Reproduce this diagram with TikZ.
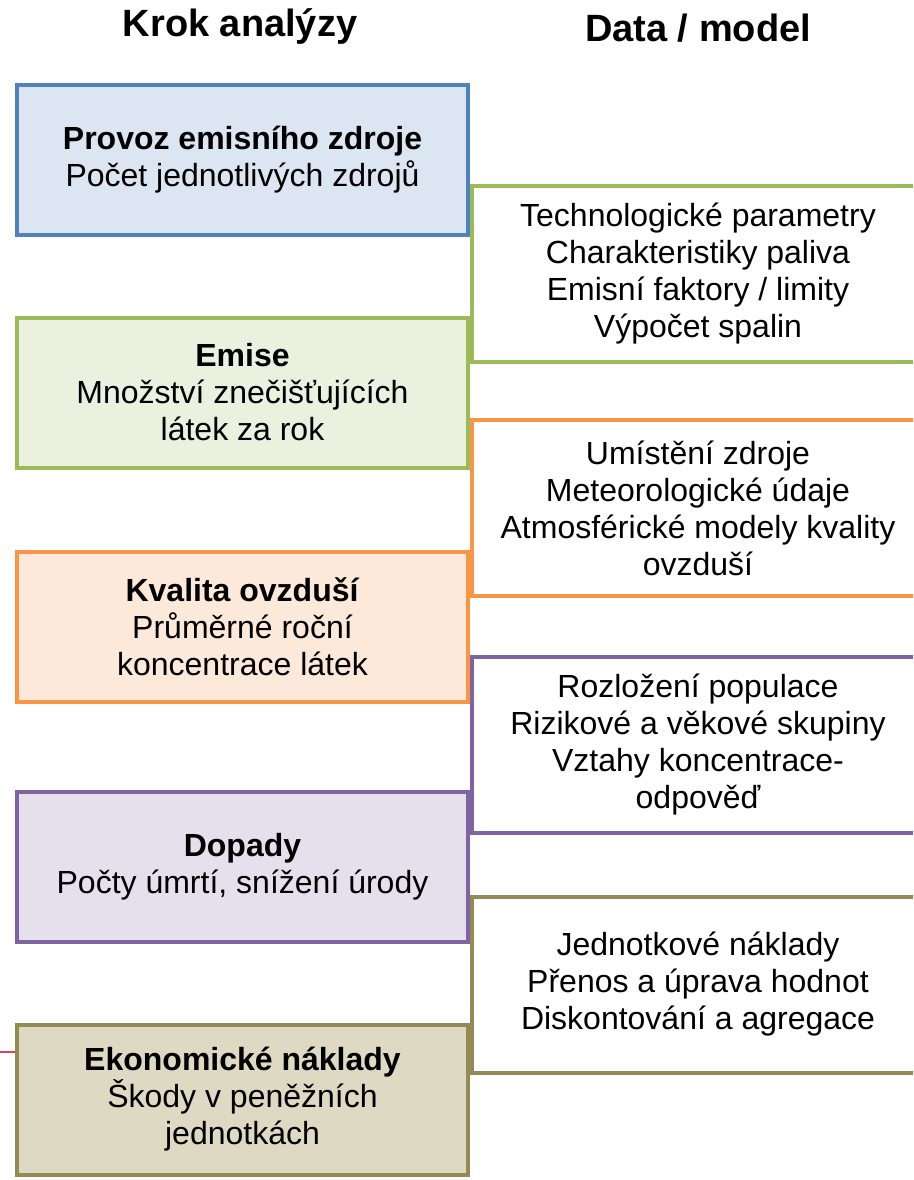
\documentclass[tikz,border=0pt]{standalone}
\usepackage{fontspec}
\setmainfont{Liberation Sans}

\begin{document}
\begin{tikzpicture}
  [x=1pt,y=-1pt,line join=miter,
   % Styles
   heading/.style={anchor=base,font=\fontsize{38}{44}\selectfont\bfseries},
   step box/.style={draw=#1,fill=#1fill,line width=4pt,
     minimum width=451pt,minimum height=150pt,align=center,
     font=\fontsize{32}{37}\selectfont},
   data box/.style={draw=#1,fill=white,line width=4pt,
     minimum width=452pt,minimum height=176pt,align=center,
     font=\fontsize{32}{37}\selectfont}]

  % Colors
  \definecolor{blueline}{HTML}{4F81BD}
  \definecolor{bluelinefill}{HTML}{DCE6F2}
  \definecolor{greenline}{HTML}{9BBB59}
  \definecolor{greenlinefill}{HTML}{EBF1DE}
  \definecolor{orangeline}{HTML}{F79646}
  \definecolor{orangelinefill}{HTML}{FDE9D9}
  \definecolor{purpleline}{HTML}{8064A2}
  \definecolor{purplelinefill}{HTML}{E5E0EC}
  \definecolor{oliveline}{HTML}{948A54}
  \definecolor{olivelinefill}{HTML}{DDD9C3}
  \definecolor{stubcolor}{HTML}{E0405A}

  \useasboundingbox (0,0) rectangle (913,1180);
  \clip (0,0) rectangle (913,1180);

  % Headings
  \node[heading] (krok) at (240,37) {Krok analýzy};
  \node[heading] (data) at (698,42) {Data / model};

  % Data / model
  \node[data box=greenline] (techn) at (698,274)
    {Technologické parametry\\Charakteristiky paliva\\Emisní faktory / limity\\Výpočet spalin};
  \node[data box=orangeline] (meteo) at (698,508)
    {Umístění zdroje\\Meteorologické údaje\\Atmosférické modely kvality\\ovzduší};
  \node[data box=purpleline] (popul) at (698,744.5)
    {Rozložení populace\\Rizikové a věkové skupiny\\Vztahy koncentrace-\\odpověď};
  \node[data box=oliveline] (ceny) at (698,984.5)
    {Jednotkové náklady\\Přenos a úprava hodnot\\Diskontování a agregace};

  % Krok analyzy
  \node[step box=blueline] (provoz) at (242.5,160)
    {\textbf{Provoz emisního zdroje}\\Počet jednotlivých zdrojů};
  \node[step box=greenline] (emise) at (242.5,392.5)
    {\textbf{Emise}\\Množství znečišťujících\\látek za rok};
  \node[step box=orangeline] (kvalita) at (242.5,627)
    {\textbf{Kvalita ovzduší}\\Průměrné roční\\koncentrace látek};
  \node[step box=purpleline] (dopady) at (242.5,866.5)
    {\textbf{Dopady}\\Počty úmrtí, snížení úrody};
  \node[step box=oliveline] (naklady) at (242.5,1099.5)
    {\textbf{Ekonomické náklady}\\Škody v peněžních\\jednotkách};

  \coordinate (stub) at (0,1052);
  \draw[stubcolor,line width=2pt] (stub) -- (stub -| naklady.west);
\end{tikzpicture}
\end{document}
